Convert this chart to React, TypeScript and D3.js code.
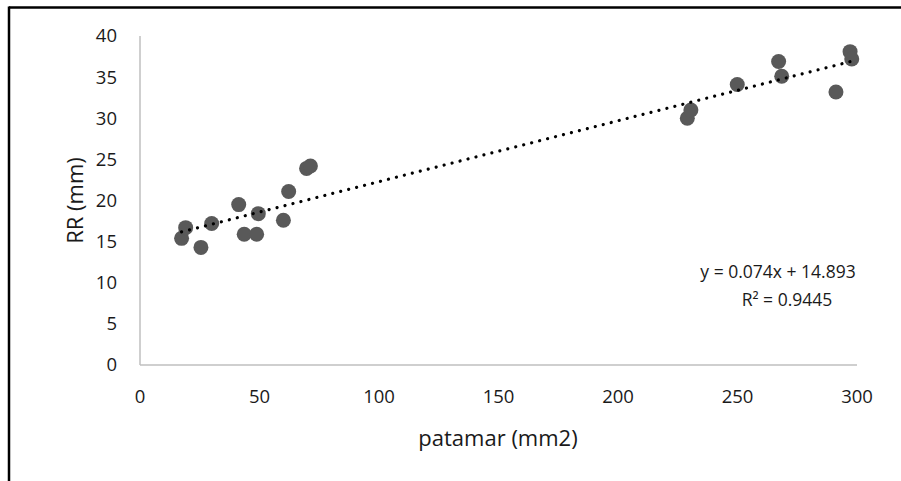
import React from "react";
import * as d3 from "d3";

const patamar = [17.4, 19.1, 25.5, 30.0, 41.3, 43.6, 48.8, 49.5, 60.0, 62.2, 69.7, 71.3, 229.0, 230.5, 249.9, 267.2, 268.5, 291.2, 297.1, 297.8];
const rr = [15.4, 16.7, 14.3, 17.2, 19.5, 15.9, 15.9, 18.4, 17.6, 21.1, 23.9, 24.2, 30.0, 31.0, 34.1, 36.9, 35.1, 33.2, 38.1, 37.2];
const xTicks = [0, 50, 100, 150, 200, 250, 300];
const yTicks = [0, 5, 10, 15, 20, 25, 30, 35, 40];
const slope = 0.074;
const intercept = 14.893;
const eqLabel = "y = 0.074x + 14.893";
const r2Label = "R² = 0.9445";
const xTitle = "patamar (mm2)";
const yTitle = "RR (mm)";

export default function App() {
  const W = 901, H = 481;
  const x = d3.scaleLinear().domain([0, 300]).range([140, 857]);
  const y = d3.scaleLinear().domain([0, 40]).range([365, 36]);
  const font = "'Open Sans', sans-serif";
  const fs = 18.5;
  const txt = "#1a1a1a";
  const xMin = d3.min(patamar)!;
  const xMax = d3.max(patamar)!;
  const line = d3.line<number>().x((d) => x(d)).y((d) => y(slope * d + intercept));
  return (
    <svg width={W} height={H} style={{ position: "absolute", left: 0, top: 0, background: "#fff" }}>
      <rect x={0} y={0} width={W} height={H} fill="#fff" />
      <line x1={9} x2={W} y1={7.5} y2={7.5} stroke="#000" strokeWidth={2.5} />
      <line x1={9} x2={9} y1={6.5} y2={H} stroke="#000" strokeWidth={2.5} />
      <line x1={x(0)} x2={x(0)} y1={y(40)} y2={y(0)} stroke="#bfbfbf" strokeWidth={1.5} />
      <line x1={x(0)} x2={x(300)} y1={y(0)} y2={y(0)} stroke="#bfbfbf" strokeWidth={1.5} />
      {yTicks.map((t) => (
        <text key={"y" + t} x={117} y={y(t)} dy="0.35em" textAnchor="end" fontFamily={font} fontSize={fs} fill={txt}>{t}</text>
      ))}
      {xTicks.map((t) => (
        <text key={"x" + t} x={x(t)} y={397} dy="0.35em" textAnchor="middle" fontFamily={font} fontSize={fs} fill={txt}>{t}</text>
      ))}
      <text x={498} y={438} dy="0.35em" textAnchor="middle" fontFamily={font} fontSize={22} fill={txt}>{xTitle}</text>
      <text transform={`translate(75,${(y(0) + y(40)) / 2}) rotate(-90)`} dy="0.35em" textAnchor="middle" fontFamily={font} fontSize={22} fill={txt}>{yTitle}</text>
      {patamar.map((v, i) => (
        <circle key={i} cx={x(v)} cy={y(rr[i])} r={7.5} fill="#595959" />
      ))}
      <path d={line([xMin, xMax]) || ""} fill="none" stroke="#000" strokeWidth={3.2} strokeLinecap="round" strokeDasharray="0.01 8.2" />
      <text x={778} y={272} dy="0.35em" textAnchor="middle" fontFamily={font} fontSize={17.5} fill={txt}>{eqLabel}</text>
      <text x={787} y={300} dy="0.35em" textAnchor="middle" fontFamily={font} fontSize={17.5} fill={txt}>{r2Label}</text>
    </svg>
  );
}
